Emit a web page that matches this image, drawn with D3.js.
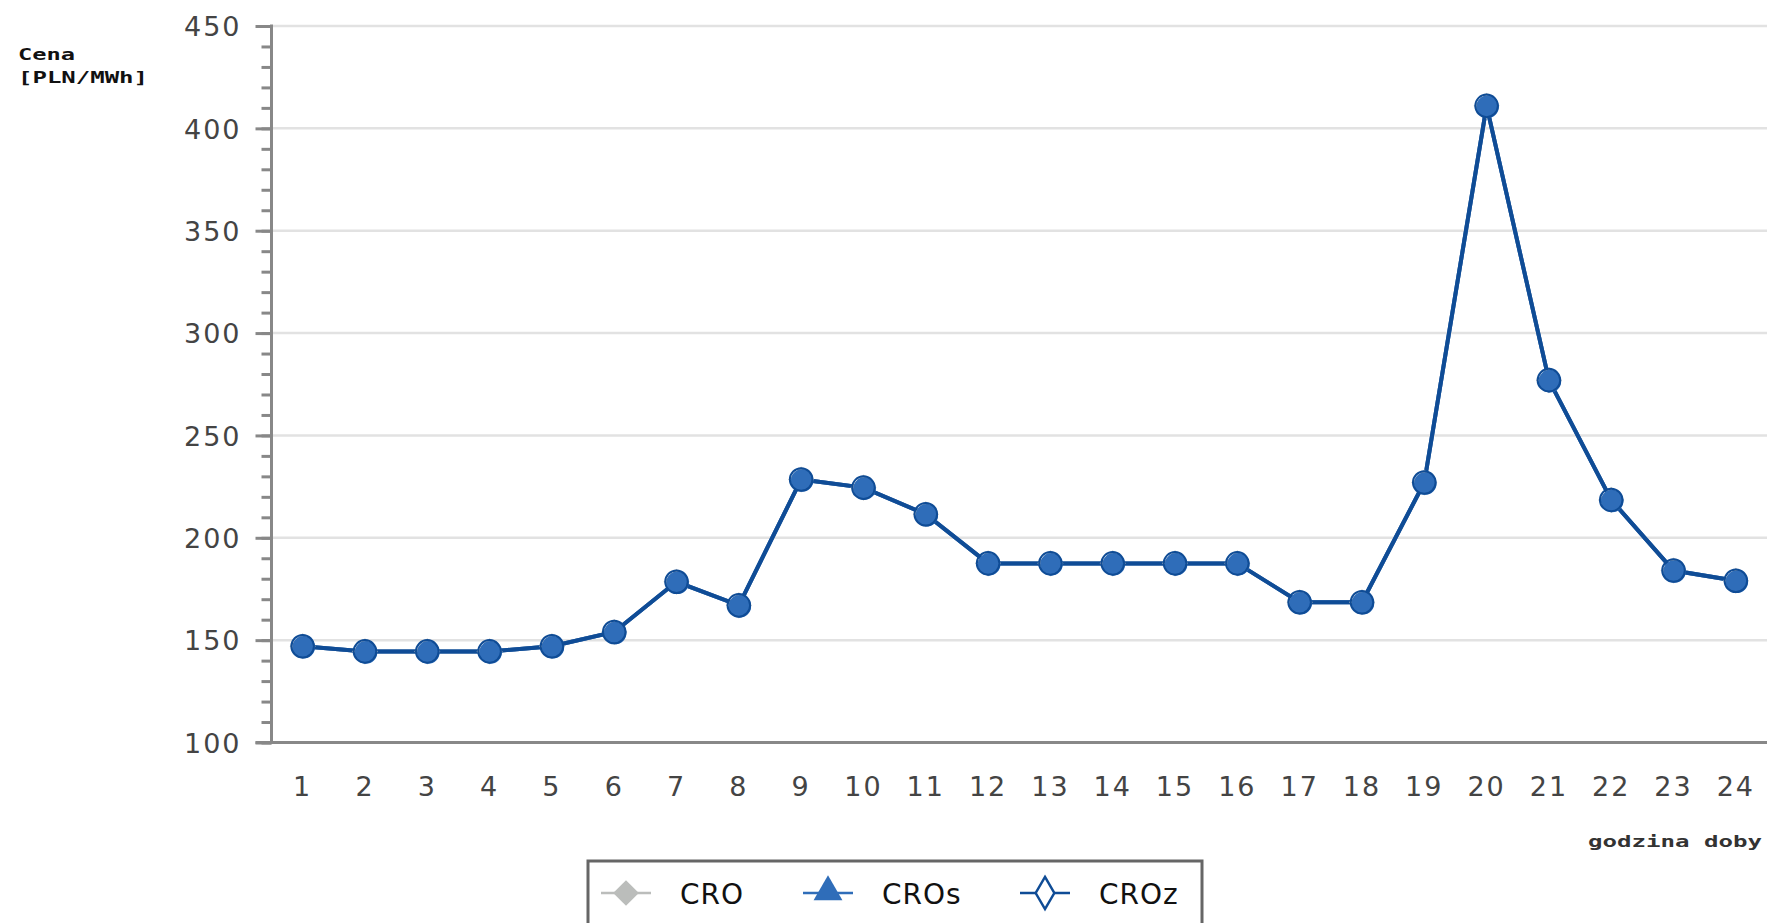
<!doctype html>
<html>
<head>
    <style>
        body { margin: 0; background: #fff; }
        #chart { display: block; }
        .tick-label { font-family: "DejaVu Sans", sans-serif; font-size: 27px; fill: #444; letter-spacing: 2px; }
        .pixel { font-family: "DejaVu Sans Mono", monospace; font-weight: bold; font-size: 16px; fill: #111; }
        .legend-text { font-family: "DejaVu Sans", sans-serif; font-size: 28px; fill: #111; letter-spacing: 1px; }
    </style>
</head>
<body>
    <svg id="chart"></svg>
    <script src="https://cdnjs.cloudflare.com/ajax/libs/d3/7.8.5/d3.min.js"></script>
    <script>
        // hours of the day
        var hours = ['1', '2', '3', '4', '5', '6', '7', '8', '9', '10', '11', '12',
                     '13', '14', '15', '16', '17', '18', '19', '20', '21', '22', '23', '24'];
        // price series [PLN/MWh]
        var cro  = [147, 144.5, 144.5, 144.5, 147, 154, 178.5, 167, 228.5, 224.5, 211.5, 187.5,
                    187.5, 187.5, 187.5, 187.5, 168.5, 168.5, 227, 411, 277, 218.5, 184, 179];
        var cros = [147, 144.5, 144.5, 144.5, 147, 154, 178.5, 167, 228.5, 224.5, 211.5, 187.5,
                    187.5, 187.5, 187.5, 187.5, 168.5, 168.5, 227, 411, 277, 218.5, 184, 179];
        var croz = [147, 144.5, 144.5, 144.5, 147, 154, 178.5, 167, 228.5, 224.5, 211.5, 187.5,
                    187.5, 187.5, 187.5, 187.5, 168.5, 168.5, 227, 411, 277, 218.5, 184, 179];
        var yTicks = [100, 150, 200, 250, 300, 350, 400, 450];
        var legendNames = ['CRO', 'CROs', 'CROz'];

        var width = 1767, height = 923;
        var svg = d3.select('#chart').attr('width', width).attr('height', height);

        var plotLeft = 271.5, plotTop = 26, plotBottom = 742.5, plotRight = 1767;
        var x = d3.scaleBand().domain(hours).range([plotLeft, plotRight]);
        var y = d3.scaleLinear().domain([100, 450]).range([plotBottom, plotTop]);

        // grid
        svg.append('g').selectAll('line').data(yTicks.slice(1)).join('line')
            .attr('x1', plotLeft).attr('x2', plotRight)
            .attr('y1', function(d) { return y(d); }).attr('y2', function(d) { return y(d); })
            .attr('stroke', '#e2e2e2').attr('stroke-width', 2.5);

        // y axis with minor ticks
        var yAxisMinor = d3.axisLeft(y).tickValues(d3.range(100, 451, 10)).tickSize(10).tickFormat('');
        var gMinor = svg.append('g').attr('transform', 'translate(' + plotLeft + ',0)').call(yAxisMinor);
        var yAxis = d3.axisLeft(y).tickValues(yTicks).tickSize(16).tickPadding(14);
        var gy = svg.append('g').attr('transform', 'translate(' + plotLeft + ',0)').call(yAxis);
        [gMinor, gy].forEach(function(g) {
            g.select('.domain').remove();
            g.selectAll('.tick line').attr('stroke', '#888').attr('stroke-width', 3);
        });
        gy.selectAll('.tick text').attr('class', 'tick-label').attr('dy', '0.36em');

        svg.append('line').attr('x1', plotLeft).attr('x2', plotLeft).attr('y1', plotTop - 1.5).attr('y2', plotBottom)
            .attr('stroke', '#888').attr('stroke-width', 3);

        // x axis
        var xAxis = d3.axisBottom(x).tickSize(0).tickPadding(34);
        var gx = svg.append('g').attr('transform', 'translate(0,' + plotBottom + ')').call(xAxis);
        gx.select('.domain').remove();
        gx.selectAll('.tick text').attr('class', 'tick-label');
        svg.append('line').attr('x1', plotLeft - 16).attr('x2', plotRight).attr('y1', plotBottom).attr('y2', plotBottom)
            .attr('stroke', '#888').attr('stroke-width', 3);

        // axis titles
        svg.append('text').attr('class', 'pixel').attr('x', 18).attr('y', 60)
            .attr('textLength', 57).attr('lengthAdjust', 'spacingAndGlyphs').text('Cena');
        svg.append('text').attr('class', 'pixel').attr('x', 18).attr('y', 83)
            .attr('textLength', 130).attr('lengthAdjust', 'spacingAndGlyphs').text('[PLN/MWh]');
        svg.append('text').attr('class', 'pixel').attr('x', 1588).attr('y', 847)
            .attr('textLength', 174).attr('lengthAdjust', 'spacingAndGlyphs').style('fill', '#333').text('godzina doby');

        // series
        var series = [
            { name: 'CRO', values: cro, color: '#bbbdbb' },
            { name: 'CROs', values: cros, color: '#2f6db9' },
            { name: 'CROz', values: croz, color: '#0f4c96' }
        ];
        var cx = function(d, i) { return x(hours[i]) + x.bandwidth() / 2; };
        var line = d3.line().x(cx).y(function(d) { return y(d); });

        series.forEach(function(s) {
            svg.append('path').attr('d', line(s.values))
                .attr('fill', 'none').attr('stroke', s.color).attr('stroke-width', 4);
        });

        var diamond = d3.symbol(d3.symbolSquare, 340);
        var circle = d3.symbol(d3.symbolCircle, 400);

        svg.append('g').selectAll('path').data(cro).join('path')
            .attr('d', diamond)
            .attr('transform', function(d, i) { return 'translate(' + cx(d, i) + ',' + y(d) + ') rotate(45)'; })
            .attr('fill', '#bbbdbb');
        svg.append('g').selectAll('path').data(cros).join('path')
            .attr('d', circle)
            .attr('transform', function(d, i) { return 'translate(' + (cx(d, i) + 1) + ',' + (y(d) + 1) + ')'; })
            .attr('fill', '#2f6db9');
        svg.append('g').selectAll('path').data(croz).join('path')
            .attr('d', circle)
            .attr('transform', function(d, i) { return 'translate(' + cx(d, i) + ',' + y(d) + ')'; })
            .attr('fill', 'none').attr('stroke', '#0f4c96').attr('stroke-width', 2);

        // legend
        var legend = svg.append('g');
        legend.append('rect').attr('x', 588).attr('y', 861).attr('width', 614).attr('height', 90)
            .attr('fill', '#fff').attr('stroke', '#666').attr('stroke-width', 3);
        var legendX = d3.scaleOrdinal().domain(legendNames).range([626, 828, 1045]);
        var ly = 893;
        legendNames.forEach(function(name, i) {
            var c = legendX(name);
            var s = series[i];
            legend.append('line').attr('x1', c - 25).attr('x2', c + 25).attr('y1', ly).attr('y2', ly)
                .attr('stroke', s.color).attr('stroke-width', 2.5);
            if (name === 'CRO') {
                legend.append('path').attr('d', d3.symbol(d3.symbolSquare, 330))
                    .attr('transform', 'translate(' + c + ',' + ly + ') rotate(45)').attr('fill', s.color);
            } else if (name === 'CROs') {
                legend.append('path').attr('d', d3.symbol(d3.symbolTriangle, 360))
                    .attr('transform', 'translate(' + c + ',' + (ly - 1) + ')').attr('fill', s.color);
            } else {
                legend.append('path').attr('d', d3.symbol(d3.symbolDiamond, 300))
                    .attr('transform', 'translate(' + c + ',' + ly + ')')
                    .attr('fill', '#fff').attr('stroke', s.color).attr('stroke-width', 2.5);
            }
            legend.append('text').attr('class', 'legend-text').attr('x', c + 54).attr('y', ly + 11).text(name);
        });
    </script>
</body>
</html>
